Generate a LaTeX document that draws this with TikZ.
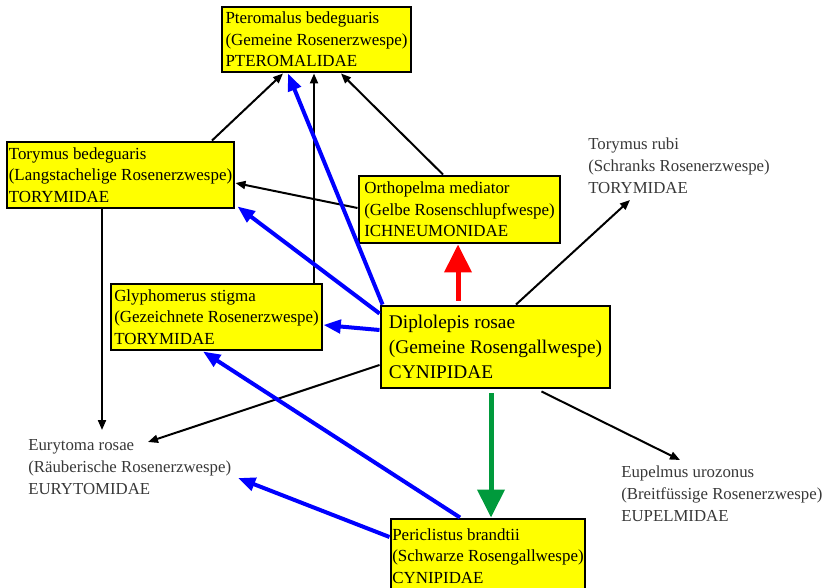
\documentclass[tikz,border=0pt]{standalone}
\usepackage{fontspec}
\setmainfont{Liberation Serif}
\usetikzlibrary{arrows.meta, positioning, calc}
\definecolor{waspyellow}{HTML}{FFFF00}
\definecolor{waspblue}{HTML}{0000FF}
\definecolor{waspred}{HTML}{FF0000}
\definecolor{waspgreen}{HTML}{009A3C}
\definecolor{waspgray}{HTML}{383838}
\tikzset{
  species/.style={draw=black, line width=2.2pt, fill=waspyellow, align=left,
    inner xsep=1pt, inner ysep=0pt, font=\fontsize{12.7}{16}\selectfont},
  hostbox/.style={species, font=\fontsize{14.5}{18.75}\selectfont},
  loose/.style={anchor=north west, inner sep=0pt, align=left, text=waspgray,
    font=\fontsize{12.6}{16.5}\selectfont},
  feeds/.style={-{Triangle[length=7.5pt,width=6pt]}, line width=1.5pt, black},
  parasite/.style={-{Triangle[length=13pt,width=10pt]}, line width=3pt, waspblue},
  bigred/.style={-{Triangle[length=21pt,width=20pt]}, line width=3.75pt, waspred},
  biggreen/.style={-{Triangle[length=21pt,width=20pt]}, line width=3.75pt, waspgreen}
}

\begin{document}
\begin{tikzpicture}[x=0.75pt, y=-0.75pt]
  \useasboundingbox (0,0) rectangle (827,588);
  \clip (0,0) rectangle (827,588);

  % Boxed species (centre in px, size in pt)
  \node[species, minimum width=141.75pt, minimum height=48.75pt] (ptero) at (316.5,39.5)
    {Pteromalus bedeguaris\\(Gemeine Rosenerzwespe)\\PTEROMALIDAE};
  \node[species, minimum width=170.25pt, minimum height=49.5pt] (tbed) at (120.5,175)
    {Torymus bedeguaris\\(Langstachelige Rosenerzwespe)\\TORYMIDAE};
  \node[species, minimum width=150.75pt, minimum height=50.25pt] (ortho) at (459.5,209.5)
    {Orthopelma mediator\\(Gelbe Rosenschlupfwespe)\\ICHNEUMONIDAE};
  \node[species, minimum width=158.25pt, minimum height=49.5pt] (glypho) at (216.5,317)
    {Glyphomerus stigma\\(Gezeichnete Rosenerzwespe)\\TORYMIDAE};
  \node[hostbox, minimum width=171.75pt, minimum height=61.5pt] (diplo) at (495.5,347)
    {Diplolepis rosae\\(Gemeine Rosengallwespe)\\CYNIPIDAE};
  \node[species, minimum width=145.5pt, minimum height=55.5pt] (peri) at (488,556)
    {Periclistus brandtii\\(Schwarze Rosengallwespe)\\CYNIPIDAE};

  % Unboxed species
  \node[loose] (trubi) at (588,138) {Torymus rubi\\(Schranks Rosenerzwespe)\\TORYMIDAE};
  \node[loose] (eury) at (28,439) {Eurytoma rosae\\(Räuberische Rosenerzwespe)\\EURYTOMIDAE};
  \node[loose] (eupel) at (621,466) {Eupelmus urozonus\\(Breitfüssige Rosenerzwespe)\\EUPELMIDAE};

  % Helper points for straight vertical links
  \coordinate (glyTop) at ($(glypho.north)+(97.5,0)$);
  \coordinate (tbedFoot) at ($(tbed.south)+(-18.5,0)$);
  \coordinate (euryTop) at ($(eury.north)+(0,-9)$);
  \coordinate (redFoot) at ($(diplo.north)+(-37.5,-4)$);
  \coordinate (greenTop) at ($(diplo.south)+(-4.5,4)$);

  % Black links
  \draw[feeds] ($(tbed.north)+(91.5,0)$) -- ($(ptero.south)+(-33.5,0)$);
  \draw[feeds] (glyTop) -- (glyTop |- ptero.south);
  \draw[feeds] ($(ortho.north)+(-16.5,0)$) -- ($(ptero.south)+(24.5,0)$);
  \draw[feeds] ($(ortho.west)+(0,-1.5)$) -- ($(tbed.east)+(0,8)$);
  \draw[feeds] ($(diplo.north)+(20.5,0)$) -- ($(trubi.north west)+(42,62)$);
  \draw[feeds] (tbedFoot) -- (tbedFoot |- euryTop);
  \draw[feeds] ($(diplo.west)+(0,18)$) -- ($(eury.north west)+(120,3)$);
  \draw[feeds] ($(diplo.south east)+(-70,2)$) -- ($(eupel.north west)+(59,-6)$);

  % Blue links
  \draw[parasite] ($(diplo.north west)+(3,0)$) -- ($(ptero.south)+(-28.5,0)$);
  \draw[parasite] ($(diplo.north west)+(0,9)$) -- ($(tbed.south east)+(2,-3)$);
  \draw[parasite] ($(diplo.west)+(0,-17)$) -- ($(glypho.east)+(0,8)$);
  \draw[parasite] ($(peri.north)+(-28,0)$) -- ($(glypho.south)+(-13.5,0)$);
  \draw[parasite] ($(peri.west)+(0,-19)$) -- ($(eury.north west)+(210,39)$);

  % Thick red and green links
  \draw[bigred] (redFoot) -- (redFoot |- ortho.south);
  \draw[biggreen] (greenTop) -- (greenTop |- peri.north);
\end{tikzpicture}
\end{document}
